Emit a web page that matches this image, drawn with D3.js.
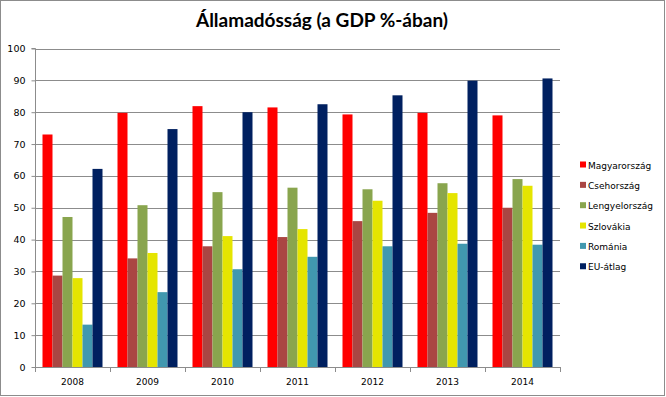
<!DOCTYPE html>
<html><head><meta charset="utf-8">
<script src="https://cdn.jsdelivr.net/npm/d3@7"></script>
<style>body{margin:0;background:#fff}svg{display:block}</style>
</head><body>
<svg id="c" width="666" height="397"></svg>
<script>
const years = ["2008","2009","2010","2011","2012","2013","2014"];
const seriesNames = ["Magyarország","Csehország","Lengyelország","Szlovákia","Románia","EU-átlag"];
const seriesColors = ["#ff0000","#aa4643","#89a54e","#e5e500","#4198af","#002060"];
const magyarorszag = [73.0,79.8,81.9,81.5,79.3,79.8,79.0];
const csehorszag   = [28.7,34.1,37.9,40.8,45.8,48.4,50.0];
const lengyelorszag= [47.1,50.8,54.9,56.3,55.8,57.7,59.0];
const szlovakia    = [27.9,35.8,41.1,43.3,52.2,54.6,56.9];
const romania      = [13.3,23.5,30.7,34.6,37.9,38.7,38.4];
const euAtlag      = [62.2,74.7,80.0,82.5,85.3,89.9,90.6];
const yTicks = [0,10,20,30,40,50,60,70,80,90,100];
const title = "Államadósság (a GDP %-ában)";

const series = [magyarorszag,csehorszag,lengyelorszag,szlovakia,romania,euAtlag];
const svg = d3.select("#c");
const L=35, R=560, T=48.5, B=367;
const FONT = "'DejaVu Sans', Verdana, sans-serif";
const x = d3.scaleBand().domain(years).range([L,R]).paddingInner(0).paddingOuter(0);
const y = d3.scaleLinear().domain([0,100]).range([B,T]);
const gw = x.bandwidth();
const barW = gw/7.5;
const xs = d3.scaleBand().domain(d3.range(6)).range([0.75*barW, 0.75*barW+6*barW]);

svg.append("rect").attr("x",0.5).attr("y",0.5).attr("width",664).attr("height",395)
  .attr("fill","#fff").attr("stroke","#8c8c8c");

svg.append("text").attr("x",322).attr("y",27).attr("text-anchor","middle")
  .attr("font-family","Lato, 'Open Sans', sans-serif").attr("font-weight","bold")
  .attr("font-size",19).attr("fill","#000").text(title);

// gridlines
svg.append("g").selectAll("line").data(yTicks.slice(1)).join("line")
  .attr("x1",L).attr("x2",R).attr("y1",d=>Math.round(y(d))+0.5).attr("y2",d=>Math.round(y(d))+0.5)
  .attr("stroke","#8c8c8c").attr("stroke-width",1);

// bars
series.forEach((vals,si)=>{
  svg.append("g").selectAll("rect").data(vals).join("rect")
    .attr("x",(d,i)=>x(years[i])+xs(si))
    .attr("width",xs.bandwidth())
    .attr("y",d=>y(d)).attr("height",d=>B-y(d))
    .attr("fill",seriesColors[si]);
});

// y axis
const ya = svg.append("g").attr("transform",`translate(${L+0.5},0)`)
  .call(d3.axisLeft(y).tickValues(yTicks).tickSize(4).tickPadding(6).tickFormat(d3.format("d")));
ya.select(".domain").attr("stroke","#8c8c8c").attr("d",`M-4,${T}H0V${B}`);
ya.selectAll(".tick line").attr("stroke","#8c8c8c");
ya.selectAll("text").attr("font-family",FONT).attr("font-size",9.5).attr("fill","#000");

// x axis
const xa = svg.append("g").attr("transform",`translate(0,${B+0.5})`)
  .call(d3.axisBottom(x).tickSize(0).tickPadding(11));
xa.select(".domain").attr("stroke","#8c8c8c").attr("d",`M${L},0H${R}`);
xa.selectAll("text").attr("font-family",FONT).attr("font-size",9).attr("fill","#000");
svg.append("g").selectAll("line").data(years.concat(["end"])).join("line")
  .attr("x1",(d,i)=>Math.round(L+i*gw)+0.5).attr("x2",(d,i)=>Math.round(L+i*gw)+0.5)
  .attr("y1",B).attr("y2",B+5).attr("stroke","#8c8c8c");

// legend
const lg = svg.append("g").selectAll("g").data(seriesNames).join("g")
  .attr("transform",(d,i)=>`translate(580,${165+i*20.35})`);
lg.append("rect").attr("x",0).attr("y",-3.5).attr("width",6).attr("height",6).attr("fill",(d,i)=>seriesColors[i]);
lg.append("text").attr("x",8).attr("y",3.5).attr("font-family",FONT)
  .attr("font-size",9).attr("fill","#000").text(d=>d);
</script>
</body></html>
